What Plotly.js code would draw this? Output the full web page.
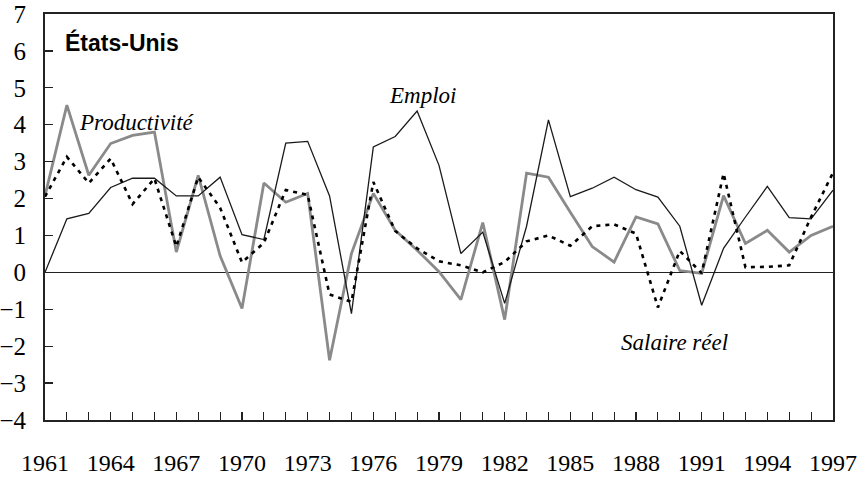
<!DOCTYPE html>
<html>
<head>
<meta charset="utf-8">
<script src="https://cdn.plot.ly/plotly-3.0.1.min.js"></script>
<style>
html, body { margin: 0; padding: 0; background: #fff; }
#chart { width: 868px; height: 481px; }
</style>
</head>
<body>
<div id="chart"></div>
<script>
const years = [1961, 1962, 1963, 1964, 1965, 1966, 1967, 1968, 1969, 1970, 1971, 1972, 1973, 1974, 1975, 1976, 1977, 1978, 1979, 1980, 1981, 1982, 1983, 1984, 1985, 1986, 1987, 1988, 1989, 1990, 1991, 1992, 1993, 1994, 1995, 1996, 1997];

const emploi = [0, 1.45, 1.6, 2.3, 2.55, 2.55, 2.07, 2.07, 2.58, 1.02, 0.89, 3.5, 3.55, 2.07, -1.12, 3.4, 3.68, 4.37, 2.9, 0.51, 1.09, -0.84, 1.25, 4.13, 2.05, 2.28, 2.58, 2.24, 2.04, 1.25, -0.89, 0.65, 1.5, 2.33, 1.48, 1.45, 2.23];

const productivite = [2.08, 4.53, 2.63, 3.49, 3.71, 3.8, 0.55, 2.63, 0.45, -0.98, 2.42, 1.9, 2.14, -2.38, 0.51, 2.14, 1.14, 0.6, 0.02, -0.74, 1.35, -1.28, 2.69, 2.58, 1.63, 0.7, 0.28, 1.5, 1.31, 0.05, -0.03, 2.08, 0.78, 1.14, 0.55, 1.0, 1.25];

const salaireReel = [2.05, 3.13, 2.42, 3.08, 1.85, 2.54, 0.7, 2.58, 1.75, 0.27, 0.8, 2.23, 2.1, -0.6, -0.8, 2.45, 1.12, 0.65, 0.3, 0.19, 0.0, 0.28, 0.84, 1.0, 0.72, 1.25, 1.3, 1.05, -0.95, 0.58, -0.02, 2.68, 0.14, 0.15, 0.19, 1.5, 2.7];

const xTickLabels = ["1961", "", "", "1964", "", "", "1967", "", "", "1970", "", "", "1973", "", "", "1976", "", "", "1979", "", "", "1982", "", "", "1985", "", "", "1988", "", "", "1991", "", "", "1994", "", "", "1997"];

const yTickVals = [-4, -3, -2, -1, 0, 1, 2, 3, 4, 5, 6, 7];

const traces = [
  { x: years, y: productivite, type: 'scatter', mode: 'lines', name: 'Productivité',
    line: { color: '#8a8a8a', width: 2.8 } },
  { x: years, y: emploi, type: 'scatter', mode: 'lines', name: 'Emploi',
    line: { color: '#1a1a1a', width: 1.3 } },
  { x: years, y: salaireReel, type: 'scatter', mode: 'lines', name: 'Salaire réel',
    line: { color: '#000000', width: 2.6, dash: '4px,5px' } }
];

const serif = "'Liberation Serif', 'Times New Roman', Times, serif";

const layout = {
  width: 868, height: 481,
  margin: { l: 45, r: 35, t: 14, b: 61 },
  paper_bgcolor: '#ffffff', plot_bgcolor: '#ffffff',
  showlegend: false,
  xaxis: {
    range: [1961, 1997], tickvals: years, ticktext: xTickLabels,
    ticks: 'inside', ticklen: 8, tickwidth: 1.2, tickcolor: '#222',
    showgrid: false, zeroline: false,
    showline: true, linecolor: '#222', linewidth: 2, mirror: true,
    ticklabelstandoff: 20,
    tickfont: { family: serif, size: 24, color: '#000' }
  },
  yaxis: {
    range: [-4, 7], tickvals: yTickVals,
    ticks: 'inside', ticklen: 8, tickwidth: 1.2, tickcolor: '#222',
    showgrid: false, zeroline: true, zerolinecolor: '#222', zerolinewidth: 1.2,
    showline: true, linecolor: '#222', linewidth: 2, mirror: true,
    ticklabelstandoff: 12,
    tickfont: { family: serif, size: 25, color: '#000' }
  },
  annotations: [
    { text: '<b>États-Unis</b>', x: 1961.82, y: 6.23, xref: 'x', yref: 'y',
      xanchor: 'left', yanchor: 'middle', showarrow: false,
      font: { family: "'Liberation Sans', Arial, sans-serif", size: 23, color: '#000' } },
    { text: '<i>Productivité</i>', x: 1965.2, y: 4.07, xref: 'x', yref: 'y',
      xanchor: 'center', yanchor: 'middle', showarrow: false,
      font: { family: serif, size: 23, color: '#000' } },
    { text: '<i>Emploi</i>', x: 1978.26, y: 4.8, xref: 'x', yref: 'y',
      xanchor: 'center', yanchor: 'middle', showarrow: false,
      font: { family: serif, size: 23, color: '#000' } },
    { text: '<i>Salaire réel</i>', x: 1989.77, y: -1.9, xref: 'x', yref: 'y',
      xanchor: 'center', yanchor: 'middle', showarrow: false,
      font: { family: serif, size: 23, color: '#000' } }
  ]
};

Plotly.newPlot('chart', traces, layout, { staticPlot: true, displayModeBar: false });
</script>
</body>
</html>
